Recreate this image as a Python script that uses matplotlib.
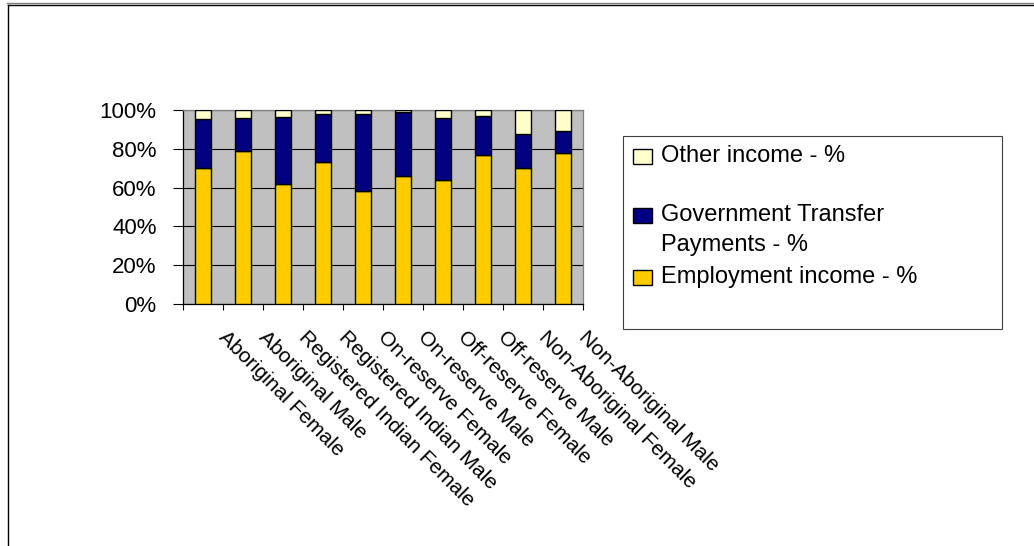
import matplotlib
matplotlib.use("Agg")
import matplotlib.pyplot as plt
from matplotlib.patches import Rectangle
from matplotlib.lines import Line2D

plt.rcParams['font.family'] = ['Liberation Sans', 'DejaVu Sans']

categories = ["Aboriginal Female", "Aboriginal Male",
              "Registered Indian Female", "Registered Indian Male",
              "On-reserve Female", "On-reserve Male",
              "Off-reserve Female", "Off-reserve Male",
              "Non-Aboriginal Female", "Non-Aboriginal Male"]

employment = [70, 79, 62, 73, 58, 66, 64, 77, 70, 78]
government = [25.5, 17, 34.5, 25, 40, 33, 32, 20, 17.5, 11]
other = [4.5, 4, 3.5, 2, 2, 1, 4, 3, 12.5, 11]

series_names = ["Employment income - %", "Government Transfer\nPayments - %", "Other income - %"]
series_colors = ["#FFCC00", "#000080", "#FFFFCC"]

W, H = 1034, 546
fig = plt.figure(figsize=(W / 100, H / 100), dpi=100)
fig.patch.set_facecolor("white")

def fx(px):
    return px / W

def fy(py):
    return 1 - py / H

# plot area
ax = fig.add_axes([fx(183), fy(304), (583 - 183) / W, (304 - 110) / H])
ax.set_facecolor("#C0C0C0")

x = list(range(len(categories)))
bottom = [0] * len(categories)
for vals, col in zip([employment, government, other], series_colors):
    ax.bar(x, vals, width=0.4, bottom=bottom, color=col,
           edgecolor="black", linewidth=1.0, zorder=3)
    bottom = [b + v for b, v in zip(bottom, vals)]

ax.set_xlim(-0.5, len(categories) - 0.5)
ax.set_ylim(0, 100)
ax.set_yticks(range(0, 101, 20))
ax.set_yticklabels([f"{v}%" for v in range(0, 101, 20)], fontsize=16)
ax.yaxis.grid(True, color="black", linewidth=0.8, zorder=1)
ax.set_axisbelow(True)

ax.set_xticks([i - 0.5 for i in range(len(categories) + 1)])
ax.set_xticklabels([])
ax.tick_params(axis="x", direction="out", length=4.5, width=0.8, color="black")
ax.tick_params(axis="y", direction="out", length=7, width=0.8, color="black", pad=12)

for side in ["left", "bottom"]:
    ax.spines[side].set_color("black")
    ax.spines[side].set_linewidth(0.9)
for side in ["top", "right"]:
    ax.spines[side].set_color("#808080")
    ax.spines[side].set_linewidth(0.9)

# slanted category labels
for i, name in enumerate(categories):
    ax.annotate(name, xy=(i, 0), xycoords=("data", "axes fraction"),
                xytext=(18, -17), textcoords="offset points",
                rotation=-45, rotation_mode="anchor",
                ha="left", va="top", fontsize=15)

# legend box
fig.patches.append(Rectangle((fx(623), fy(329)), (1002 - 623) / W, (329 - 136) / H,
                             transform=fig.transFigure, facecolor="white",
                             edgecolor="#404040", linewidth=0.8))
legend_rows = [(2, 157), (1, 216), (0, 278)]
for idx, yc in legend_rows:
    fig.patches.append(Rectangle((fx(633), fy(yc + 7)), 19 / W, 15 / H,
                                 transform=fig.transFigure,
                                 facecolor=series_colors[idx],
                                 edgecolor="black", linewidth=1.0))
    fig.text(fx(661), fy(yc - 12), series_names[idx], fontsize=17,
             ha="left", va="top", linespacing=1.45)

# outer frame (top and left edges)
fig.add_artist(Line2D([fx(7), fx(W)], [fy(3), fy(3)], transform=fig.transFigure,
                      color="#808080", linewidth=1.0))
fig.add_artist(Line2D([fx(7.5), fx(W)], [fy(4.5), fy(4.5)], transform=fig.transFigure,
                      color="black", linewidth=1.0))
fig.add_artist(Line2D([fx(7.5), fx(7.5)], [fy(4.5), fy(H)], transform=fig.transFigure,
                      color="black", linewidth=1.0))

fig.savefig("out.png", dpi=100)
